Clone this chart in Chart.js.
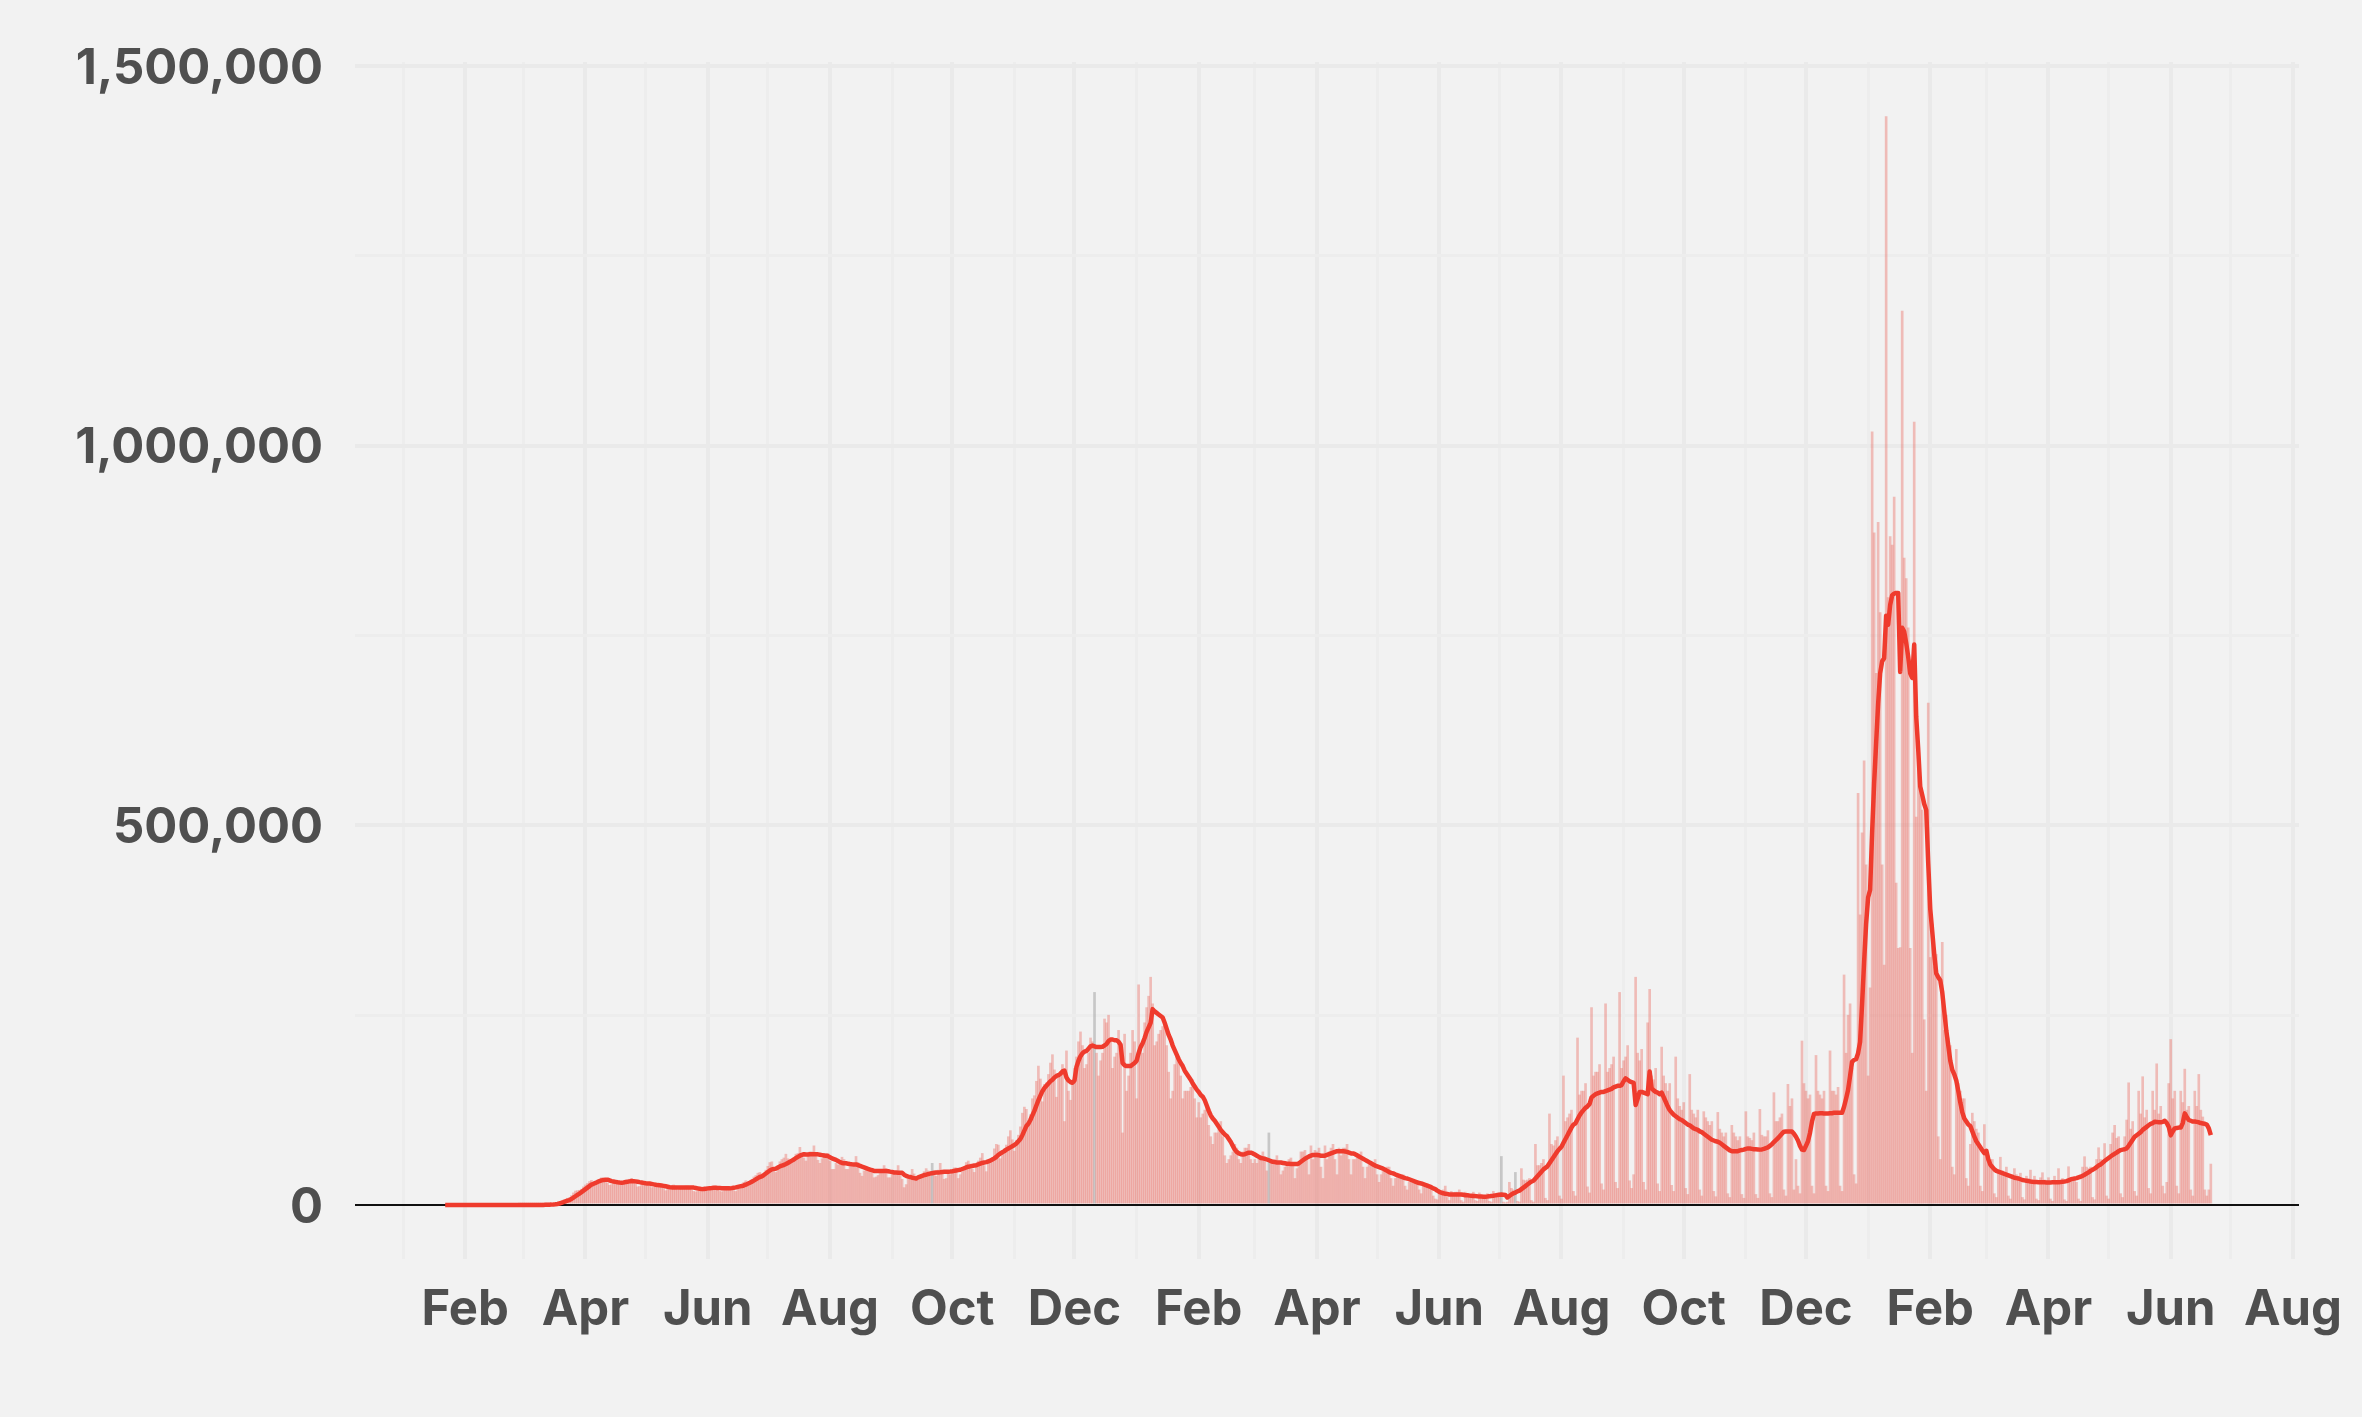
<!DOCTYPE html>
<html>
<head>
<meta charset="utf-8">
<title>Daily new cases</title>
<script src="https://cdn.jsdelivr.net/npm/chart.js@4.4.1/dist/chart.umd.min.js"></script>
<style>
  html, body { margin: 0; padding: 0; background: #f2f2f2; }
  #wrap { width: 2362px; height: 1417px; }
</style>
</head>
<body>
<div id="wrap"><canvas id="casesChart" width="2362" height="1417"></canvas></div>
<script>
// daily reported cases, in thousands (rows are Mon..Sun weeks)
const start2020 = [2020, 1, 22];
const cases2020 = [
  0, 0, 0, 0, 0,
  0, 0, 0, 0, 0, 0, 0,
  0, 0, 0, 0, 0, 0, 0,
  0, 0, 0, 0, 0, 0, 0,
  0, 0, 0, 0, 0, 0, 0,
  0, 0, 0, 0, 0.01, 0.01, 0.02,
  0.02, 0.03, 0.05, 0.08, 0.1, 0.1, 0.12,
  0.2, 0.25, 0.35, 0.45, 0.6, 0.7, 0.9,
  1.6, 2.3, 3.1, 4.8, 5.8, 6.6, 7.6,
  9, 9.5, 12.5, 16, 18.5, 19, 19.5,
  21, 24, 26.5, 28.5, 31, 32.5, 25.5,
  30, 32, 34, 36, 35.5, 33, 29,
  26, 27, 30, 31, 32, 31, 27,
  28, 29, 31.5, 34, 35, 33, 29.5,
  24, 24.5, 28, 30, 31, 29, 25,
  23, 23.5, 26, 27.5, 28, 26, 22,
  19, 21, 22.5, 26, 26.5, 25, 20,
  21, 21, 22, 25, 25, 24.5, 19.5,
  18, 17.5, 20, 21.5, 23.5, 24, 19,
  20, 20.5, 21, 22, 25, 23.5, 18,
  17.5, 19, 21.5, 23, 24.5, 25, 19,
  18, 23, 26, 27, 30, 32, 25,
  31, 34, 37, 39, 42, 43, 41,
  42, 46, 51, 56, 57, 44, 43,
  47, 57, 60, 62, 67, 61, 58,
  60, 62, 67, 68, 76, 65, 62,
  58, 64, 70, 70, 78, 66, 59,
  55, 61, 68, 68, 68, 58, 47,
  47, 55, 53, 59, 63, 60, 47,
  47, 52, 55, 55, 64, 56, 42,
  38, 45, 47, 46, 49, 48, 36,
  37, 39, 46, 46, 52, 48, 36,
  36, 40, 43, 44, 52, 44, 34,
  23, 27, 34, 36, 47, 41, 35,
  33, 39, 38, 44, 48, 45, 38,
  55, 40, 38, 46, 55, 43, 34,
  35, 43, 40, 45, 49, 49, 35,
  40, 44, 51, 56, 58, 54, 47,
  43, 50, 58, 62, 68, 52, 44,
  58, 60, 62, 74, 80, 79, 61,
  67, 74, 79, 90, 98, 86, 71,
  85, 92, 103, 121, 129, 126, 106,
  119, 140, 144, 163, 183, 166, 136,
  159, 161, 172, 187, 198, 178, 142,
  170, 176, 185, 110, 203, 150, 138,
  158, 180, 195, 215, 228, 210, 180,
  185, 200, 220, 215, 280, 200, 170,
  190, 200, 245, 240, 250, 215, 180,
  195, 200, 230, 200, 95, 225, 150,
  170, 200, 230, 215
];
const avg2020 = [
  0, 0, 0, 0, 0,
  0, 0, 0, 0, 0, 0, 0,
  0, 0, 0, 0, 0, 0, 0,
  0, 0, 0, 0, 0, 0, 0,
  0, 0, 0, 0, 0, 0, 0,
  0, 0, 0, 0, 0, 0, 0.01,
  0.02, 0.03, 0.04, 0.05, 0.06, 0.08, 0.1,
  0.13, 0.17, 0.22, 0.29, 0.38, 0.48, 0.6,
  0.8, 1.1, 1.5, 2.1, 2.9, 3.8, 4.8,
  5.9, 6.6, 8, 9.8, 11.6, 13.5, 15.2,
  17, 19, 21, 23, 25, 27, 28,
  29.2, 30.5, 31.5, 32.5, 33, 33.3, 33.5,
  32.5, 31.5, 31, 30.5, 30, 29.6, 29.4,
  29.8, 30.3, 30.8, 31.2, 31.6, 31.5, 31.2,
  30.8, 30.2, 29.7, 29.2, 28.7, 28.5, 28.3,
  27.8, 27.3, 26.8, 26.3, 26, 25.7, 25.3,
  24.8, 24.2, 23.6, 23.3, 23.2, 23.2, 23.2,
  23.2, 23.2, 23.3, 23.3, 23.3, 23.3, 23.3,
  23, 22.5, 22, 21.5, 21, 21.2, 21.6,
  22, 22.3, 22.5, 22.8, 22.8, 22.6, 22.4,
  22.2, 22, 22, 22, 22, 22.3, 22.8,
  23.3, 24, 24.6, 25, 25.8, 26.8, 28,
  29.3, 30.7, 32.2, 33.8, 35.5, 37, 37.8,
  39.5, 41.5, 43.5, 45.5, 47, 47.5, 48,
  49.5, 51, 52, 52.7, 54, 55.5, 57,
  58.5, 60, 62, 63.5, 65, 66, 67,
  66.5, 66.5, 67, 67, 67, 67, 66.8,
  66.3, 65.8, 65.3, 64.8, 64.5, 63, 61.5,
  60.5, 59.5, 58, 56.5, 55.5, 55, 55,
  54.5, 54, 53.7, 53.5, 53.5, 52.5, 51.5,
  50.5, 49.6, 48.6, 47.6, 46.7, 45.9, 45,
  44.8, 44.8, 44.8, 44.8, 44.8, 44.8, 44.6,
  44, 43.5, 43, 42.8, 42.6, 42.5, 42.5,
  40, 38.5, 37.5, 37, 36, 35.5, 35,
  36.5, 37.5, 38.5, 39.5, 40, 40.8, 41.5,
  42, 42.5, 43, 43, 43.2, 43.5, 43.8,
  44, 44, 44.2, 44.5, 45, 45.5, 46,
  46.5, 47.5, 48.5, 49.5, 50.5, 51, 51.5,
  52, 52.5, 53.5, 54.5, 55.5, 56, 56.5,
  57.5, 58.5, 60, 61.5, 63.5, 66, 68,
  69.5, 71, 73, 74.5, 76, 77.5, 79,
  81, 84, 87, 92, 98, 104, 107,
  112, 118, 124, 131, 138, 144, 150,
  154, 157, 160, 163, 165, 168, 170,
  171, 173, 176, 177, 168, 164, 162,
  161, 164, 182, 190, 196, 200, 202,
  203, 206, 209, 210, 209, 208, 208,
  208, 208.5, 210, 212, 216, 218, 218,
  217, 217, 215, 211, 187, 184, 183,
  183, 183, 185, 187
];

const start2021 = [2021, 1, 1];
const cases2021 = [
  140, 290, 211,
  200, 240, 260, 275, 300, 265, 210,
  215, 225, 230, 235, 240, 210, 175,
  140, 150, 185, 195, 195, 170, 140,
  150, 150, 150, 155, 165, 140, 115,
  135, 115, 120, 125, 130, 105, 90,
  80, 95, 95, 100, 110, 90, 65,
  55, 60, 65, 70, 80, 75, 60,
  55, 70, 75, 75, 80, 60, 55,
  60, 55, 65, 65, 70, 60, 45,
  95, 55, 55, 60, 65, 55, 40,
  45, 50, 55, 60, 62, 55, 35,
  48, 55, 70, 70, 72, 65, 40,
  78, 60, 72, 70, 75, 50, 35,
  78, 60, 70, 75, 80, 60, 40,
  75, 65, 75, 75, 80, 60, 40,
  60, 60, 65, 62, 70, 50, 35,
  50, 55, 55, 55, 60, 40, 30,
  40, 45, 45, 50, 50, 35, 25,
  35, 38, 40, 40, 40, 25, 20,
  30, 30, 33, 32, 32, 20, 15,
  25, 25, 28, 26, 22, 12, 8,
  7, 20, 18, 20, 25, 10, 6,
  18, 16, 17, 17, 20, 6, 4,
  17, 14, 14, 13, 17, 6, 5,
  16, 13, 13, 12, 15, 5, 4,
  18, 14, 15, 16, 64, 4, 3,
  4, 30, 22, 20, 43, 5, 4,
  48, 33, 32, 33, 35, 6, 4,
  80, 52, 52, 55, 60, 9, 6,
  120, 80, 78, 85, 90, 12, 8,
  170, 110, 115, 120, 125, 18, 12,
  220, 145, 150, 150, 160, 24, 16,
  260, 170, 175, 175, 185, 28, 20,
  265, 175, 180, 185, 195, 30, 22,
  280, 180, 190, 195, 210, 32, 22,
  40, 300, 200, 190, 205, 30, 20,
  240, 284, 170, 165, 180, 28, 18,
  208, 170, 160, 150, 160, 26, 18,
  195, 140, 130, 125, 135, 22, 14,
  172, 125, 120, 115, 125, 20, 12,
  123, 115, 110, 105, 110, 18, 11,
  122, 100, 95, 90, 95, 15, 10,
  105, 95, 90, 85, 90, 14, 9,
  123, 90, 88, 85, 95, 14, 9,
  126, 92, 90, 90, 98, 15, 10,
  148, 110, 110, 115, 120, 20, 12,
  159, 130, 140, 20, 60, 25, 15,
  216, 160, 150, 140, 145, 25, 15,
  197, 150, 145, 140, 150, 25, 18,
  203, 150, 150, 145, 155, 25, 18,
  303, 200, 250, 265, 180, 40, 28,
  542, 382, 490, 585, 448
];
const avg2021 = [
  190, 200, 208,
  213, 220, 228, 234, 240, 258, 255,
  253, 251, 249, 247, 240, 232, 224,
  218, 210, 204, 198, 192, 187, 183,
  177, 173, 169, 165, 160, 156, 152,
  149, 145, 142.7, 138, 131, 124, 118,
  114, 111, 107, 103, 99, 96, 93,
  91, 87, 83, 78, 73, 70, 68,
  67, 66.5, 67, 68, 69, 69, 68,
  66.5, 65, 63.5, 62, 61.5, 61, 60,
  59, 58, 57, 56.5, 56, 56, 56,
  55.5, 55, 54.5, 54.3, 54, 54, 54,
  54, 55, 57, 59, 61, 62.5, 64,
  65, 66, 66, 66, 65.5, 65, 65,
  65, 66, 67, 68, 69, 70, 71,
  71, 71, 71, 70.5, 70, 69, 68,
  68, 67, 65.5, 64, 62.5, 61, 59.5,
  58, 56.5, 55, 53.5, 52, 51, 50,
  49, 48, 46.5, 45, 43.5, 42.5, 41.7,
  40.5, 39.5, 38.5, 37.5, 36.5, 35.5, 35,
  34, 33, 32, 31, 30, 29, 28.5,
  27.5, 26.5, 25.5, 24.5, 23.5, 22, 21,
  19, 17.5, 16.5, 15.5, 15, 14.5, 14,
  14, 14, 14, 14, 14, 14, 13.5,
  13, 12.8, 12.5, 12.3, 12, 11.8, 11.5,
  11.3, 11.2, 11, 11, 11.2, 11.5, 12,
  12.3, 12.8, 13.2, 13.5, 13.8, 13.5, 13.2,
  10, 12, 14, 15.5, 16.5, 18, 19,
  21, 23, 25, 27, 29, 31, 32,
  35, 38, 41, 44, 47, 49, 51,
  55, 59, 63, 67, 71, 74, 76.8,
  82, 87, 92, 97, 102, 106, 107.6,
  113, 118, 122, 125, 128, 130, 133,
  141.8, 144, 146, 147, 148, 149, 149,
  150, 151, 152, 153, 155, 156, 157,
  157, 158, 163, 166.8, 165, 163, 162,
  161, 131.7, 140, 149, 149, 148, 147,
  146, 176, 153.6, 151, 149, 148, 146,
  148, 142, 136, 130, 125, 122, 119,
  117, 115, 113, 112, 110, 108, 106,
  105, 103, 101, 100, 99, 97, 96,
  94, 92, 90, 88, 86, 85, 84,
  83.4, 82, 80, 78, 76, 74, 72,
  71, 71, 71, 71, 72, 72.5, 73,
  74, 74.6, 74.5, 74, 73.5, 73.5, 73.3,
  73, 73.3, 74, 75, 76, 78, 80,
  83, 85.6, 88, 91, 94, 96.6, 97,
  97, 97, 97, 94, 90, 85, 78,
  73, 72.4, 78, 84, 95, 110, 120,
  120.7, 120.7, 121, 121, 120.7, 120.7, 120.7,
  121, 121, 121.5, 121.5, 121.6, 121.6, 121.6,
  129.5, 140, 151.5, 170, 188.8, 191, 192,
  200, 215, 265, 320, 370
];

const start2022 = [2022, 1, 1];
const cases2022 = [
  170, 286,
  1018, 885, 700, 899, 780, 448, 316,
  1433, 800, 880, 869, 932, 424, 338,
  339, 1177, 852, 825, 760, 338, 200,
  1031, 511, 600, 560, 520, 244, 150,
  661, 326, 370, 314, 330, 90, 60,
  346, 230, 250, 220, 210, 50, 40,
  205, 160, 150, 140, 140, 35, 25,
  80, 121, 110, 100, 95, 25, 18,
  106, 70, 65, 60, 60, 15, 10,
  45, 63, 45, 42, 50, 12, 8,
  40, 48, 40, 38, 42, 10, 7,
  38, 35, 46, 33, 38, 8, 6,
  36, 42.6, 33, 32, 36, 8, 5,
  38, 30, 48, 30, 35, 7, 5,
  50.5, 35, 36, 36, 30, 8, 5,
  50, 63.7, 50, 48, 50, 10, 7,
  60, 75.5, 60, 58, 81, 12, 8,
  80, 95, 105, 88, 90, 15, 10,
  90, 112, 161, 100, 110, 18, 12,
  150, 120, 169, 115, 125, 22, 15,
  150, 125, 186, 120, 130, 25, 15,
  30, 160, 218, 140, 150, 25, 15,
  150, 135, 179, 125, 130, 20, 12,
  150, 130, 172, 125, 116, 20, 12,
  20, 54
];
const avg2022 = [
  405, 415,
  490, 555, 608, 660, 700, 716, 720,
  776, 764, 790, 803, 805, 806, 806,
  702, 760, 755, 740, 722, 700, 694,
  738, 643, 600, 551, 540, 528, 520,
  450, 390, 360, 330, 305, 300, 296,
  280, 255, 230, 210, 190, 178, 172,
  164, 150, 135, 122, 114, 110, 106,
  104, 97, 90, 84, 80, 76, 72,
  68.5, 71.5, 60, 53, 50, 47, 45,
  44, 43, 42, 41, 40, 39, 38,
  37, 36, 35.5, 35, 34, 33, 32.5,
  32, 31.5, 31, 30.7, 30.5, 30.3, 30,
  30, 29.9, 29.9, 29.8, 29.8, 29.8, 29.9,
  29.9, 29.9, 30, 30.3, 30.7, 31, 31.5,
  32.5, 33.8, 34.5, 35, 35.5, 36.5, 37.3,
  38.5, 40, 41.5, 43, 45, 46.5, 48,
  50, 52, 53.5, 55.7, 58, 60, 62,
  64, 65.9, 67.5, 69, 71, 72.4, 73,
  73.5, 74.6, 78, 82, 86, 90, 92,
  94, 96, 99, 101, 103, 105, 107,
  108, 109.8, 109.5, 109, 108.9, 109.5, 111,
  108, 103, 91.8, 97, 101, 101.5, 102,
  102, 108, 120.7, 116, 112, 111, 110,
  110, 109.5, 109, 108, 107.5, 107, 106,
  101, 92
];

// days flagged as reporting anomalies (drawn grey)
const anomalyDays = ['2020-09-21', '2020-12-11', '2021-03-08', '2021-07-02', '2021-07-09'];

const monthNames = ['Jan', 'Feb', 'Mar', 'Apr', 'May', 'Jun', 'Jul', 'Aug', 'Sep', 'Oct', 'Nov', 'Dec'];
const yTicks = [0, 250000, 500000, 750000, 1000000, 1250000, 1500000];
const yLabelStep = 500000;

function dayIndex(y, m, d) {
    return Math.round((Date.UTC(y, m - 1, d) - Date.UTC(2020, 0, 1)) / 86400000);
}

const barPoints = [];
const linePoints = [];
[[start2020, cases2020, avg2020], [start2021, cases2021, avg2021], [start2022, cases2022, avg2022]].forEach(([s, c, a]) => {
    const d0 = dayIndex(s[0], s[1], s[2]);
    c.forEach((v, i) => barPoints.push({ x: d0 + i, y: v * 1000 }));
    a.forEach((v, i) => linePoints.push({ x: d0 + i, y: v * 1000 }));
});

const anomalySet = new Set(anomalyDays.map(s => {
    const p = s.split('-').map(Number);
    return dayIndex(p[0], p[1], p[2]);
}));

// month gridlines, every other month labelled
const monthTicks = [];
const monthLabels = {};
for (let y = 2020; y <= 2022; y++) {
    for (let m = 0; m < 12; m++) {
        if (y === 2022 && m > 7) break;
        const v = dayIndex(y, m + 1, 1);
        monthTicks.push(v);
        monthLabels[v] = (m % 2 === 1) ? monthNames[m] : '';
    }
}

const zeroLine = {
    id: 'zeroLine',
    afterDatasetDraw(chart, args) {
        if (args.index !== 0) return;
        const { ctx, chartArea } = chart;
        const y = Math.round(chart.scales.y.getPixelForValue(0));
        ctx.save();
        ctx.strokeStyle = '#111111';
        ctx.lineWidth = 2;
        ctx.beginPath();
        ctx.moveTo(chartArea.left, y);
        ctx.lineTo(chartArea.right, y);
        ctx.stroke();
        ctx.restore();
    }
};

const tickFont = { family: 'Inter', size: 49, weight: 'bold' };

new Chart(document.getElementById('casesChart'), {
    type: 'bar',
    data: {
        datasets: [{
            type: 'bar',
            data: barPoints,
            backgroundColor: (c) => (c.raw && anomalySet.has(c.raw.x)) ? 'rgba(170,170,170,0.6)' : 'rgba(235,120,110,0.45)',
            borderWidth: 0,
            barPercentage: 1,
            categoryPercentage: 1,
            order: 2
        }, {
            type: 'line',
            data: linePoints,
            borderColor: '#ef3b2d',
            borderWidth: 4.5,
            borderJoinStyle: 'round',
            pointRadius: 0,
            tension: 0,
            fill: false,
            order: 1
        }]
    },
    options: {
        responsive: false,
        animation: false,
        devicePixelRatio: 1,
        layout: { padding: { top: 62, right: 63, bottom: 0, left: 0 } },
        plugins: { legend: { display: false }, tooltip: { enabled: false } },
        scales: {
            x: {
                type: 'linear',
                min: -24,
                max: 946,
                offset: false,
                afterBuildTicks: (scale) => { scale.ticks = monthTicks.map(v => ({ value: v })); },
                afterFit: (scale) => { scale.height = 158; scale.paddingLeft = 0; scale.paddingRight = 0; },
                border: { display: false },
                grid: {
                    offset: false,
                    drawTicks: false,
                    color: (c) => (c.tick && monthLabels[c.tick.value]) ? '#eaeaea' : '#ededed',
                    lineWidth: (c) => (c.tick && monthLabels[c.tick.value]) ? 4 : 3
                },
                ticks: {
                    autoSkip: false,
                    maxRotation: 0,
                    padding: 22,
                    color: '#4f4f4f',
                    font: tickFont,
                    callback: (v) => monthLabels[v] || ''
                }
            },
            y: {
                min: -71000,
                max: 1505000,
                afterBuildTicks: (scale) => { scale.ticks = yTicks.map(v => ({ value: v })); },
                afterFit: (scale) => { scale.width = 355; scale.paddingTop = 0; scale.paddingBottom = 0; },
                border: { display: false },
                grid: {
                    drawTicks: false,
                    color: (c) => (c.tick && c.tick.value === 0) ? 'rgba(0,0,0,0)' : (c.tick && c.tick.value % yLabelStep === 0 ? '#eaeaea' : '#ededed'),
                    lineWidth: (c) => (c.tick && c.tick.value % yLabelStep === 0) ? 4 : 3
                },
                ticks: {
                    padding: 32,
                    labelOffset: 3,
                    color: '#4f4f4f',
                    font: tickFont,
                    callback: (v) => v % yLabelStep === 0 ? v.toLocaleString('en-US') : ''
                }
            }
        }
    },
    plugins: [zeroLine]
});
</script>
</body>
</html>
